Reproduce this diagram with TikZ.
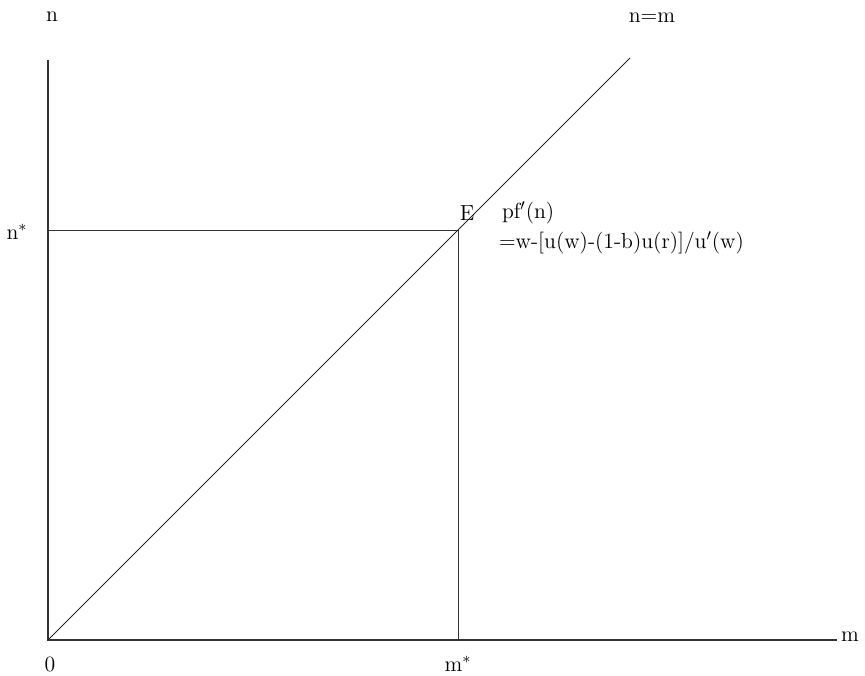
\documentclass[tikz,border=0pt]{standalone}
\usepackage{tikz}
\tikzset{
  axisline/.style={line width=0.6pt, draw=black!80},
  guideline/.style={line width=0.55pt, draw=black!80},
  diagline/.style={line width=0.45pt, draw=black!85},
  axislabel/.style={font=\fontsize{12.4}{15}\selectfont, inner sep=1pt},
}
\begin{document}
\begin{tikzpicture}
\useasboundingbox (0,0) rectangle (17.3,13.52);
\coordinate (origin) at (0.96,0.72);
\coordinate (ytop) at (0.96,12.32);
\coordinate (xend) at (16.74,0.72);
\coordinate (eq) at (9.16,8.92);
\coordinate (ystar) at (0.96,8.92);
\coordinate (xstar) at (9.16,0.72);
\coordinate (diagend) at (12.6,12.36);
\draw[axisline] (ytop) -- (origin) -- (xend);
\draw[guideline] (ystar) -- (eq) -- (xstar);
\draw[diagline] (origin) -- (diagend);
\node[axislabel] (nlab) at (1.04,13.18) {n};
\node[axislabel] (mlab) at (17.0,0.78) {m};
\node[axislabel] (zero) at (1.0,0.24) {0};
\node[axislabel] (nstar) at (0.34,8.88) {n$^*$};
\node[axislabel] (mstar) at (9.16,0.24) {m$^*$};
\node[axislabel] (diaglab) at (13.04,13.16) {n=m};
\node[axislabel] (elab) at (9.34,9.26) {E};
\node[axislabel, anchor=west] (curve1) at (10.0,9.26) {pf$'$(n)};
\node[axislabel, anchor=west] (curve2) at (9.94,8.66) {=w-[u(w)-(1-b)u(r)]/u$'$(w)};
\end{tikzpicture}
\end{document}
